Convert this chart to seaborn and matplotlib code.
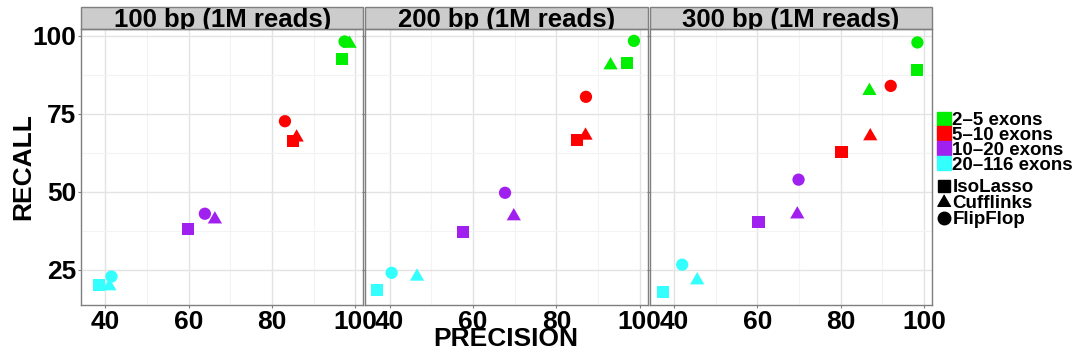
import numpy as np
import pandas as pd
import seaborn as sns
import matplotlib.pyplot as plt
from matplotlib.patches import Rectangle
from matplotlib.lines import Line2D

# ------------------------------------------------------------
# Data
# ------------------------------------------------------------
panels = ["100 bp (1M reads)", "200 bp (1M reads)", "300 bp (1M reads)"]
exon_bins = ["2\u20135 exons", "5\u201310 exons", "10\u201320 exons", "20\u2013116 exons"]
methods = ["IsoLasso", "Cufflinks", "FlipFlop"]

# rows = exon bins, cols = methods (IsoLasso, Cufflinks, FlipFlop)
precision_100 = [[96.7, 98.6, 97.4], [85.0, 85.9, 83.1], [59.8, 66.3, 63.9], [38.4, 41.0, 41.5]]
recall_100 = [[92.6, 97.4, 98.1], [66.2, 67.4, 72.6], [38.0, 41.2, 43.0], [20.2, 19.8, 22.9]]

precision_200 = [[96.9, 93.0, 98.6], [85.0, 87.0, 87.1], [57.6, 69.8, 67.7], [37.1, 46.6, 40.5]]
recall_200 = [[91.2, 90.5, 98.3], [66.5, 68.0, 80.4], [37.1, 42.2, 49.7], [18.6, 22.9, 24.1]]

precision_300 = [[98.2, 86.9, 98.4], [80.2, 87.1, 92.0], [60.3, 69.6, 69.9], [37.3, 45.6, 42.0]]
recall_300 = [[89.0, 82.3, 97.8], [62.7, 67.8, 83.9], [40.3, 42.8, 53.9], [18.0, 21.7, 26.7]]

exon_colors = ["#00EE00", "#FF0000", "#A020F0", "#33FFFF"]

# ggplot-like equilateral triangle
tri = [(0, 1), (-0.866, -0.5), (0.866, -0.5)]
method_markers = ["s", tri, "o"]
method_sizes = [75, 140, 78]

# ------------------------------------------------------------
# Long table
# ------------------------------------------------------------
rows = []
for panel, prec, rec in zip(panels, [precision_100, precision_200, precision_300],
                            [recall_100, recall_200, recall_300]):
    for i, eb in enumerate(exon_bins):
        for j, m in enumerate(methods):
            rows.append({"panel": panel, "exons": eb, "method": m,
                         "precision": prec[i][j], "recall": rec[i][j]})
df = pd.DataFrame(rows)

# ------------------------------------------------------------
# Plot
# ------------------------------------------------------------
sns.set_style("white")
plt.rcParams["font.family"] = ["Liberation Sans", "DejaVu Sans"]
plt.rcParams["font.weight"] = "bold"
plt.rcParams["text.color"] = "black"

W, H = 1078, 360
fig, axes = plt.subplots(1, 3, figsize=(W / 100, H / 100), dpi=100, sharey=True)
fig.subplots_adjust(left=81 / W, right=932 / W, top=1 - 29 / H, bottom=1 - 305 / H,
                    wspace=0.007)

palette = dict(zip(exon_bins, exon_colors))
markers = dict(zip(methods, method_markers))
sizes = dict(zip(methods, method_sizes))

for ax, panel in zip(axes, panels):
    sub = df[df["panel"] == panel]
    ax.set_axisbelow(True)
    sns.scatterplot(data=sub, x="precision", y="recall", hue="exons", style="method",
                    size="method", sizes=sizes, size_order=methods,
                    palette=palette, markers=markers, hue_order=exon_bins,
                    style_order=methods, linewidth=0, legend=False, ax=ax, zorder=3)
    ax.set_xlim(34.2, 101.9)
    ax.set_ylim(13.8, 102.1)
    ax.set_xticks([40, 60, 80, 100])
    ax.set_yticks([25, 50, 75, 100])
    ax.set_xticks([50, 70, 90], minor=True)
    ax.set_yticks([37.5, 62.5, 87.5], minor=True)
    ax.grid(True, which="major", color="#E3E3E3", linewidth=1.0)
    ax.grid(True, which="minor", color="#F3F3F3", linewidth=0.8)
    ax.tick_params(axis="both", which="major", labelsize=19, length=2.5, width=0.8,
                   color="#7F7F7F", labelcolor="black", pad=1.0, left=True, bottom=True)
    ax.tick_params(axis="both", which="minor", length=0)
    for lab in ax.get_xticklabels() + ax.get_yticklabels():
        lab.set_fontweight("bold")
    for sp in ax.spines.values():
        sp.set_color("#7F7F7F")
        sp.set_linewidth(1.0)
    ax.set_xlabel("")
    ax.set_ylabel("")

    # facet strip
    strip_h = 22 / 276
    rect = Rectangle((0, 1.0), 1, strip_h, transform=ax.transAxes, facecolor="#CCCCCC",
                     edgecolor="#7F7F7F", linewidth=1.0, clip_on=False)
    ax.add_patch(rect)
    t = ax.text(0.5, 1.0 + 2 / 276, panel, transform=ax.transAxes, ha="center",
                va="baseline", fontsize=18.5, fontweight="bold", clip_on=True)
    t.set_clip_path(rect)

fig.text(506 / W, 1 - 339.5 / H, "PRECISION", ha="center", va="center",
         fontsize=19, fontweight="bold")
fig.text(23 / W, 1 - 167 / H, "RECALL", ha="center", va="center", rotation=90,
         fontsize=19, fontweight="bold")

# legends
hue_handles = [Line2D([], [], marker="s", linestyle="", color=c, markersize=9.5)
               for c in exon_colors]
leg1 = fig.legend(hue_handles, exon_bins, loc="upper left",
                  bbox_to_anchor=(937 / W, 1 - 112 / H), frameon=False,
                  prop={"size": 13.5, "weight": "bold"}, handlelength=0.7,
                  handletextpad=0.12, labelspacing=-0.12, borderpad=0, borderaxespad=0)
shape_handles = [Line2D([], [], marker=m, linestyle="", color="black", markersize=ms)
                 for m, ms in zip(method_markers, [9, 11, 9])]
leg2 = fig.legend(shape_handles, methods, loc="upper left",
                  bbox_to_anchor=(937 / W, 1 - 179 / H), frameon=False,
                  prop={"size": 13.5, "weight": "bold"}, handlelength=0.7,
                  handletextpad=0.12, labelspacing=-0.05, borderpad=0, borderaxespad=0)

fig.savefig("out.png", dpi=100)
